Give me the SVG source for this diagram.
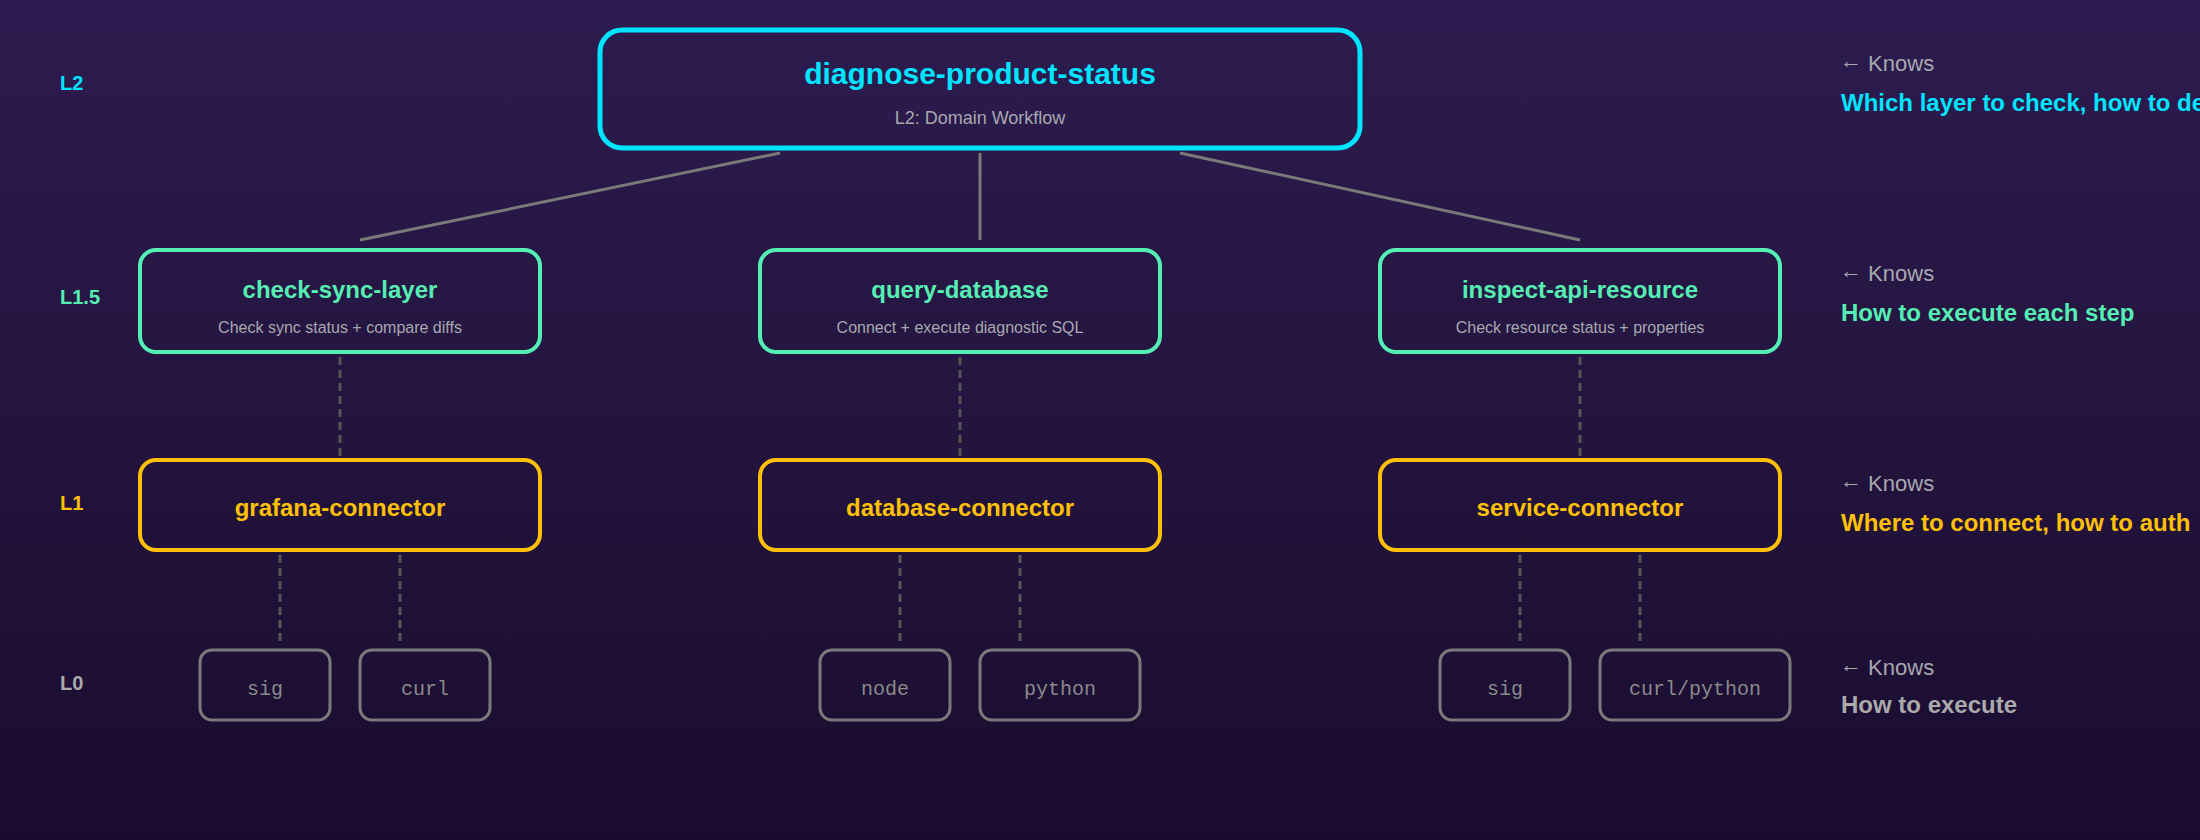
<svg xmlns="http://www.w3.org/2000/svg" width="2200" height="840" viewBox="0 0 2200 840">
<defs>
<linearGradient id="bg" x1="0" y1="0" x2="0" y2="1">
<stop offset="0" stop-color="#2d1c4f"/>
<stop offset="1" stop-color="#1a0c2e"/>
</linearGradient>
<style>
text{font-family:"Liberation Sans",Arial,sans-serif;}
.lvl{font-size:20px;font-weight:bold;}
.box{fill:none;}
.l2{stroke:#00e5ff;stroke-width:5;}
.l15{stroke:#55efb4;stroke-width:4;}
.l1{stroke:#ffc107;stroke-width:4;}
.l0{stroke:#7a7a7a;stroke-width:3;}
.t2{fill:#00e5ff;font-size:30px;font-weight:bold;text-anchor:middle;}
.t15{fill:#55efb4;font-size:24px;font-weight:bold;text-anchor:middle;}
.t1{fill:#ffc107;font-size:24px;font-weight:bold;text-anchor:middle;}
.sub{fill:#a8a8b0;font-size:16px;text-anchor:middle;}
.sub2{fill:#a8a8b0;font-size:18px;text-anchor:middle;}
.t0{fill:#8a8a8a;font-size:20px;font-family:"Liberation Mono","Courier New",monospace;text-anchor:middle;}
.knows{fill:#a8a8b0;font-size:22px;}
.desc{font-size:24px;font-weight:bold;}
.solid{stroke:#7a7a7a;stroke-width:3;fill:none;}
.dash{stroke:#555;stroke-width:3;stroke-dasharray:8 5;fill:none;}
</style>
</defs>
<rect x="0" y="0" width="2200" height="840" fill="url(#bg)"/>

<g id="level-labels">
<text class="lvl" x="60" y="90" fill="#00e5ff">L2</text>
<text class="lvl" x="60" y="304" fill="#55efb4">L1.5</text>
<text class="lvl" x="60" y="510" fill="#ffc107">L1</text>
<text class="lvl" x="60" y="690" fill="#aaaaaa">L0</text>
</g>

<g id="connectors">
<line class="solid" x1="780" y1="153" x2="360" y2="240"/>
<line class="solid" x1="980" y1="153" x2="980" y2="240"/>
<line class="solid" x1="1180" y1="153" x2="1580" y2="240"/>
<line class="dash" x1="340" y1="357" x2="340" y2="456"/>
<line class="dash" x1="960" y1="357" x2="960" y2="456"/>
<line class="dash" x1="1580" y1="357" x2="1580" y2="456"/>
<line class="dash" x1="280" y1="555" x2="280" y2="641"/>
<line class="dash" x1="400" y1="555" x2="400" y2="641"/>
<line class="dash" x1="900" y1="555" x2="900" y2="641"/>
<line class="dash" x1="1020" y1="555" x2="1020" y2="641"/>
<line class="dash" x1="1520" y1="555" x2="1520" y2="641"/>
<line class="dash" x1="1640" y1="555" x2="1640" y2="641"/>
</g>

<g id="diagnose-product-status">
<rect class="box l2" x="600" y="30" width="760" height="118" rx="22"/>
<text class="t2" x="980" y="84">diagnose-product-status</text>
<text class="sub2" x="980" y="124">L2: Domain Workflow</text>
</g>

<g id="check-sync-layer">
<rect class="box l15" x="140" y="250" width="400" height="102" rx="16"/>
<text class="t15" x="340" y="298">check-sync-layer</text>
<text class="sub" x="340" y="333">Check sync status + compare diffs</text>
</g>
<g id="query-database">
<rect class="box l15" x="760" y="250" width="400" height="102" rx="16"/>
<text class="t15" x="960" y="298">query-database</text>
<text class="sub" x="960" y="333">Connect + execute diagnostic SQL</text>
</g>
<g id="inspect-api-resource">
<rect class="box l15" x="1380" y="250" width="400" height="102" rx="16"/>
<text class="t15" x="1580" y="298">inspect-api-resource</text>
<text class="sub" x="1580" y="333">Check resource status + properties</text>
</g>

<g id="grafana-connector">
<rect class="box l1" x="140" y="460" width="400" height="90" rx="16"/>
<text class="t1" x="340" y="516">grafana-connector</text>
</g>
<g id="database-connector">
<rect class="box l1" x="760" y="460" width="400" height="90" rx="16"/>
<text class="t1" x="960" y="516">database-connector</text>
</g>
<g id="service-connector">
<rect class="box l1" x="1380" y="460" width="400" height="90" rx="16"/>
<text class="t1" x="1580" y="516">service-connector</text>
</g>

<g id="grafana-sig">
<rect class="box l0" x="200" y="650" width="130" height="70" rx="12"/>
<text class="t0" x="265" y="695">sig</text>
</g>
<g id="grafana-curl">
<rect class="box l0" x="360" y="650" width="130" height="70" rx="12"/>
<text class="t0" x="425" y="695">curl</text>
</g>
<g id="database-node">
<rect class="box l0" x="820" y="650" width="130" height="70" rx="12"/>
<text class="t0" x="885" y="695">node</text>
</g>
<g id="database-python">
<rect class="box l0" x="980" y="650" width="160" height="70" rx="12"/>
<text class="t0" x="1060" y="695">python</text>
</g>
<g id="service-sig">
<rect class="box l0" x="1440" y="650" width="130" height="70" rx="12"/>
<text class="t0" x="1505" y="695">sig</text>
</g>
<g id="service-curl-python">
<rect class="box l0" x="1600" y="650" width="190" height="70" rx="12"/>
<text class="t0" x="1695" y="695">curl/python</text>
</g>

<g id="knows-annotations">
<text class="knows" x="1840" y="71"><tspan dy="-3">←</tspan><tspan dy="3"> Knows</tspan></text>
<text class="desc" x="1841" y="111" fill="#00e5ff">Which layer to check, how to de</text>
<text class="knows" x="1840" y="281"><tspan dy="-3">←</tspan><tspan dy="3"> Knows</tspan></text>
<text class="desc" x="1841" y="321" fill="#55efb4">How to execute each step</text>
<text class="knows" x="1840" y="491"><tspan dy="-3">←</tspan><tspan dy="3"> Knows</tspan></text>
<text class="desc" x="1841" y="531" fill="#ffc107">Where to connect, how to auth</text>
<text class="knows" x="1840" y="675"><tspan dy="-3">←</tspan><tspan dy="3"> Knows</tspan></text>
<text class="desc" x="1841" y="713" fill="#aaaaaa">How to execute</text>
</g>
</svg>
